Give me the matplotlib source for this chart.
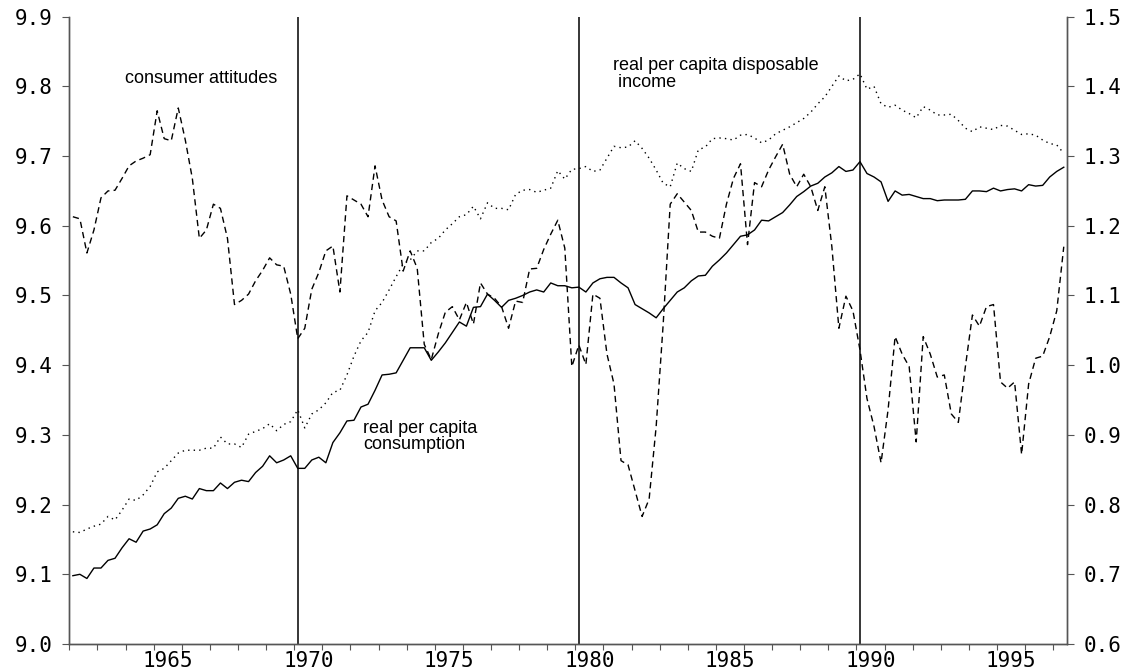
import numpy as np
import pandas as pd
import matplotlib
matplotlib.use("Agg")
import matplotlib.pyplot as plt

# quarterly, 1962Q1 .. 1997Q2
quarters = pd.period_range("1962Q1", "1997Q2", freq="Q")

# real per capita consumption (log, left axis)
consumption = [
    9.098, 9.100, 9.094, 9.109, 9.109, 9.120, 9.123, 9.138, 9.151, 9.146, 9.162,
    9.165, 9.171, 9.187, 9.195, 9.209, 9.212, 9.208, 9.223, 9.220, 9.220, 9.231,
    9.223, 9.232, 9.235, 9.233, 9.246, 9.255, 9.270, 9.260, 9.264, 9.270, 9.252,
    9.252, 9.264, 9.268, 9.260, 9.289, 9.303, 9.320, 9.321, 9.340, 9.344, 9.364,
    9.386, 9.387, 9.389, 9.407, 9.425, 9.425, 9.425, 9.407, 9.419, 9.432, 9.447,
    9.462, 9.456, 9.483, 9.484, 9.502, 9.493, 9.483, 9.493, 9.496, 9.500, 9.505,
    9.508, 9.505, 9.518, 9.514, 9.514, 9.511, 9.512,
    9.505, 9.518, 9.524, 9.526, 9.526, 9.518, 9.511, 9.487, 9.481, 9.475, 9.468,
    9.481, 9.493, 9.505, 9.511, 9.521, 9.528, 9.529, 9.542, 9.551, 9.561, 9.573,
    9.585, 9.587, 9.594, 9.608, 9.607, 9.613,
    9.619, 9.630, 9.642, 9.649, 9.657, 9.661, 9.670, 9.676, 9.685, 9.678, 9.680,
    9.692, 9.675, 9.670, 9.663, 9.635, 9.650, 9.644, 9.645, 9.642, 9.639, 9.639,
    9.636, 9.637, 9.637, 9.637, 9.638, 9.650, 9.650, 9.649, 9.654, 9.650, 9.652,
    9.653, 9.650, 9.659, 9.657, 9.658, 9.670, 9.678, 9.684,
]

# real per capita disposable income (log, left axis)
income = [
    9.161, 9.160, 9.165, 9.169, 9.172, 9.183, 9.178, 9.192, 9.208, 9.206, 9.214,
    9.226, 9.247, 9.252, 9.263, 9.274, 9.278, 9.278, 9.278, 9.281, 9.281, 9.297,
    9.287, 9.287, 9.282, 9.301, 9.305, 9.309, 9.316, 9.306, 9.315, 9.319, 9.336,
    9.310, 9.330, 9.336, 9.346, 9.361, 9.364, 9.386, 9.413, 9.435, 9.447, 9.478,
    9.490, 9.508, 9.527, 9.545, 9.551, 9.564, 9.564, 9.576, 9.582, 9.594, 9.603,
    9.613, 9.616, 9.628, 9.610, 9.633, 9.625,
    9.625, 9.623, 9.645, 9.651, 9.652, 9.648, 9.651, 9.654, 9.679, 9.667, 9.681,
    9.682, 9.685, 9.678, 9.680, 9.697, 9.714, 9.712, 9.713, 9.722, 9.711, 9.697,
    9.680, 9.661, 9.656, 9.690, 9.682, 9.678, 9.709, 9.713, 9.725, 9.726, 9.725,
    9.723, 9.730, 9.731, 9.726, 9.719, 9.723, 9.732, 9.737, 9.742, 9.748,
    9.754, 9.763, 9.775, 9.785, 9.800, 9.815, 9.808, 9.810, 9.818, 9.796, 9.800,
    9.775, 9.770, 9.773, 9.766, 9.761, 9.755, 9.771, 9.766, 9.759, 9.759, 9.760,
    9.751, 9.740, 9.735, 9.742, 9.740, 9.738, 9.744, 9.743, 9.737, 9.731, 9.732,
    9.730, 9.723, 9.718, 9.716, 9.704,
]

# consumer attitudes (right axis)
attitudes = [
    1.213, 1.210, 1.161, 1.194, 1.240, 1.250, 1.251, 1.268, 1.286, 1.293, 1.297,
    1.302, 1.365, 1.325, 1.322, 1.369, 1.323, 1.268, 1.182, 1.194, 1.231, 1.225,
    1.182, 1.087, 1.093, 1.102, 1.121, 1.136, 1.154, 1.144, 1.142, 1.102, 1.038,
    1.053, 1.109, 1.133, 1.164, 1.171, 1.105, 1.243, 1.237, 1.231, 1.213, 1.286,
    1.237, 1.213, 1.207, 1.135, 1.164, 1.139, 1.030, 1.008, 1.045, 1.076, 1.084,
    1.065, 1.090, 1.059, 1.118, 1.102, 1.096, 1.084, 1.053, 1.092, 1.090, 1.138,
    1.139, 1.166, 1.188, 1.208, 1.168, 0.998, 1.029,
    1.001, 1.102, 1.096, 1.016, 0.973, 0.863, 0.857, 0.820, 0.783, 0.808, 0.912,
    1.059, 1.231, 1.246, 1.234, 1.222, 1.191, 1.191, 1.185, 1.182, 1.231, 1.268,
    1.289, 1.173, 1.262, 1.256, 1.280, 1.299, 1.317, 1.274, 1.256, 1.274, 1.256,
    1.222, 1.256, 1.170, 1.053,
    1.099, 1.078, 1.022, 0.952, 0.912, 0.860, 0.936, 1.041, 1.016, 0.998, 0.890,
    1.041, 1.016, 0.983, 0.986, 0.930, 0.918, 0.998, 1.072, 1.056, 1.084, 1.087,
    0.976, 0.967, 0.976, 0.872, 0.973, 1.010, 1.013, 1.041, 1.078, 1.170,
]

break_years = [1970, 1980, 1990]
label_years = [1965, 1970, 1975, 1980, 1985, 1990, 1995]

# each quarter plotted at its middle
t = np.array([p.year + (p.quarter - 0.5) / 4 for p in quarters])

fig = plt.figure(figsize=(11.33, 6.70), dpi=100)
ax = fig.add_axes([0.0612, 0.0388, 0.8808, 0.9363])
ax2 = ax.twinx()

ax.plot(t, consumption, color="black", lw=1.0)
ax.plot(t, income, color="black", lw=1.0, linestyle=(0, (1, 3)))
ax2.plot(t, attitudes, color="black", lw=1.0, linestyle=(0, (4.5, 3)))

for yr in break_years:
    ax.axvline(yr + 0.125, color="black", lw=1.1)

ax.set_xlim(1962, 1997.5)
ax.set_ylim(9.0, 9.9)
ax2.set_ylim(0.6, 1.5)

tick_font = dict(family="DejaVu Sans Mono", size=15)
ax.set_yticks(np.arange(9.0, 9.91, 0.1))
ax.set_yticklabels([f"{v:.1f}" for v in np.arange(9.0, 9.91, 0.1)], **tick_font)
ax2.set_yticks(np.arange(0.6, 1.51, 0.1))
ax2.set_yticklabels([f"{v:.1f}" for v in np.arange(0.6, 1.51, 0.1)], **tick_font)

ax.set_xticks(np.arange(1962, 1998))
ax.set_xticklabels([])
ax.set_xticks([y + 0.5 for y in label_years], minor=True)
ax.set_xticklabels([str(y) for y in label_years], minor=True, **tick_font)
ax.tick_params(axis="x", which="major", length=4, color="#555555")
ax.tick_params(axis="x", which="minor", length=0, pad=5)
ax.tick_params(axis="y", length=5, pad=7, color="#555555")
ax2.tick_params(axis="y", length=5, pad=7, color="#555555")

for a in (ax, ax2):
    a.spines["top"].set_visible(False)
    for s in ("left", "right", "bottom"):
        a.spines[s].set_color("#555555")
        a.spines[s].set_linewidth(1.0)

lab = dict(family="Liberation Sans", fontsize=13, linespacing=0.95, va="center")
ax.text(1963.98, 9.811, "consumer attitudes", **lab)
ax.text(1972.46, 9.298, "real per capita\nconsumption", **lab)
ax.text(1981.33, 9.818, "real per capita disposable\n income", **lab)

fig.savefig("out.png", dpi=100)
